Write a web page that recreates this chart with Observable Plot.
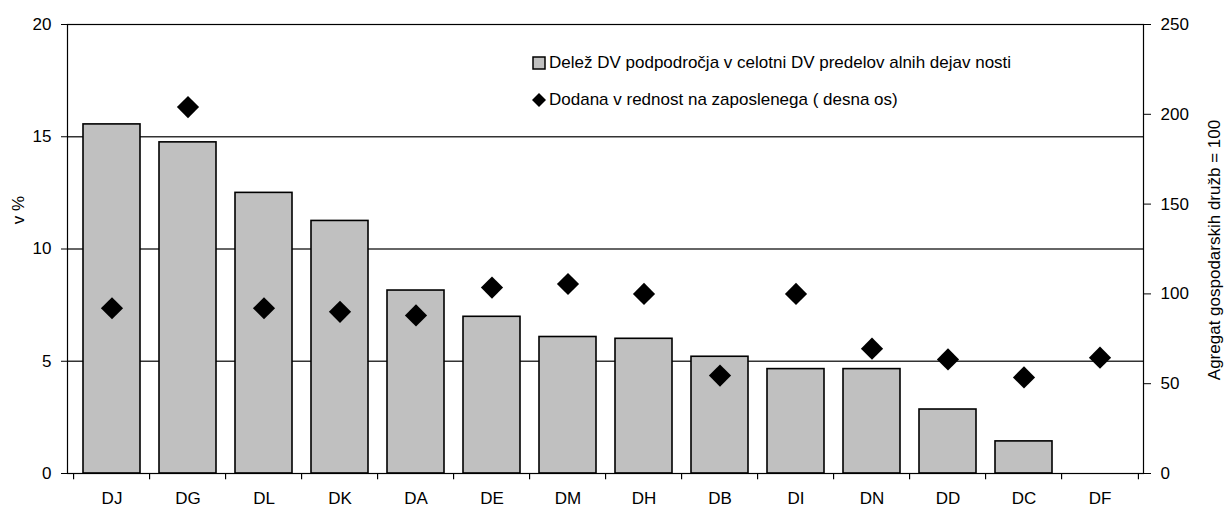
<!DOCTYPE html>
<html>
<head>
<meta charset="utf-8">
<script src="https://cdn.jsdelivr.net/npm/d3@7"></script>
<script src="https://cdn.jsdelivr.net/npm/@observablehq/plot@0.6"></script>
<style>
  html, body { margin: 0; padding: 0; background: white; }
  #wrap { position: relative; width: 1225px; height: 509px; font-family: "Liberation Sans", Arial, sans-serif; }
  .lab { position: absolute; font-size: 17px; color: #000; white-space: nowrap; }
  .rot { transform: translate(-50%, -50%) rotate(-90deg); }
</style>
</head>
<body>
<div id="wrap"></div>
<script>
const categories = ["DJ","DG","DL","DK","DA","DE","DM","DH","DB","DI","DN","DD","DC","DF"];
const shareValues = [15.55, 14.75, 12.5, 11.25, 8.15, 6.98, 6.08, 6.0, 5.2, 4.65, 4.65, 2.85, 1.43, 0];
const vaValues = [92, 204, 92, 90, 88, 103.5, 105.5, 100, 54.5, 100, 69.5, 63.5, 53.5, 64.5];
const leftTicks = [0, 5, 10, 15, 20];
const rightTicks = [0, 50, 100, 150, 200, 250];
const legendLabels = ["Delež DV podpodročja v  celotni DV predelov alnih dejav nosti", "Dodana v rednost na zaposlenega ( desna os)"];
const leftTitle = "v %";
const rightTitle = "Agregat gospodarskih družb = 100";

const k = 20 / 250;
const data = categories.map((c, i) => ({cat: c, share: shareValues[i], va: vaValues[i]}));

const W = 1225, H = 509, mL = 67, mR = 82, mT = 24, mB = 36;
const step = (W - mL - mR) / categories.length;

const chart = Plot.plot({
  width: W, height: H,
  marginLeft: mL, marginRight: mR, marginTop: mT, marginBottom: mB,
  x: {domain: categories, paddingInner: 0.25, paddingOuter: 0.125, label: null},
  y: {domain: [0, 20], label: null},
  style: {fontFamily: "'Liberation Sans', Arial, sans-serif", fontSize: "17px", background: "white", color: "black", overflow: "visible"},
  marks: [
    Plot.ruleY([5, 10, 15], {stroke: "#333", strokeWidth: 1.3}),
    Plot.barY(data, {x: "cat", y: "share", fill: "#c0c0c0", stroke: "black", strokeWidth: 1.6}),
    Plot.dot(data, {x: "cat", y: d => d.va * k, symbol: "diamond2", r: 10, fill: "black", stroke: "none"}),
    Plot.frame({stroke: "black", strokeWidth: 1.2}),
    Plot.axisY(leftTicks, {anchor: "left", tickSize: 6, tickPadding: 10, label: null, fontSize: 17}),
    Plot.axisY(rightTicks.map(v => v * k), {anchor: "right", tickSize: 7, tickPadding: 10, tickFormat: d => Math.round(d / k), label: null, fontSize: 17}),
    Plot.axisX({tickSize: 0, tickPadding: 18, label: null, fontSize: 17}),
    Plot.ruleX(categories, {x: d => d, y1: 0, y2: -0.28, dx: -step / 2, stroke: "black", strokeWidth: 1.2}),
    Plot.ruleX([categories[categories.length - 1]], {x: d => d, y1: 0, y2: -0.28, dx: step / 2, stroke: "black", strokeWidth: 1.2})
  ]
});

const wrap = document.getElementById("wrap");
wrap.appendChild(chart);

function addLabel(text, x, y, cls) {
  const d = document.createElement("div");
  d.className = "lab " + (cls || "");
  d.textContent = text;
  d.style.left = x + "px";
  d.style.top = y + "px";
  wrap.appendChild(d);
  return d;
}
addLabel(leftTitle, 19, 210, "rot");
addLabel(rightTitle, 1215, 250, "rot");

// Legend
const leg = document.createElement("div");
leg.style.cssText = "position:absolute;left:532px;top:52px;font-size:17px;line-height:21px;";
leg.innerHTML =
  `<div style="display:flex;align-items:center;height:21px;"><svg width="17" height="14"><rect x="1" y="1" width="12" height="12" fill="#c0c0c0" stroke="black" stroke-width="1.5"/></svg><span>${legendLabels[0]}</span></div>` +
  `<div style="display:flex;align-items:center;height:21px;margin-top:16px;"><svg width="17" height="14"><path d="M7,0 L14,7 L7,14 L0,7Z" fill="black"/></svg><span>${legendLabels[1]}</span></div>`;
wrap.appendChild(leg);
</script>
</body>
</html>
